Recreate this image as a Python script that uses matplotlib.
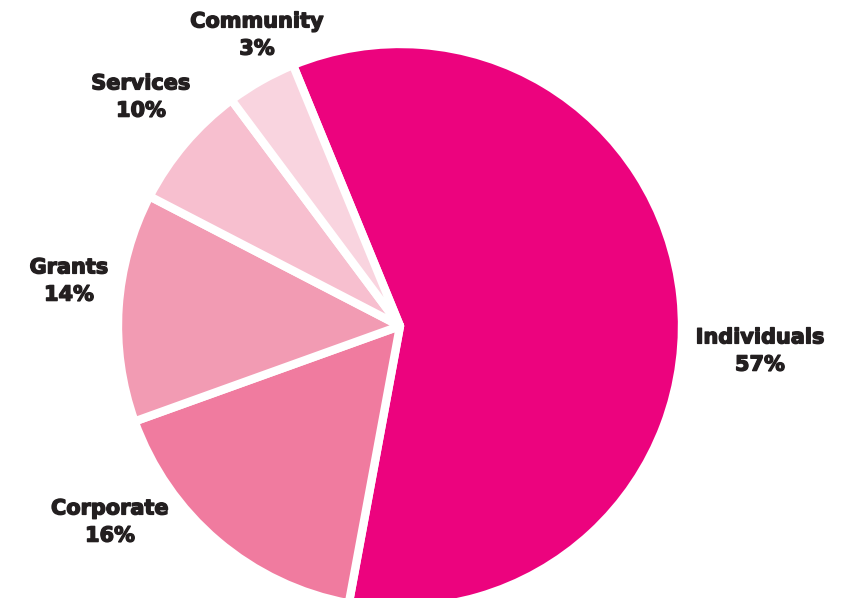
import matplotlib
matplotlib.use("Agg")
import matplotlib.pyplot as plt
import matplotlib.patheffects as pe

# Data
categories = ["Individuals", "Corporate", "Grants", "Services", "Community"]
percent_labels = ["57%", "16%", "14%", "10%", "3%"]
# slice shares as drawn in the reference
shares = [59.1, 16.6, 13.1, 7.2, 4.0]
colors = ["#EC037E", "#F07B9F", "#F29BB3", "#F7BFCF", "#F9D4DF"]

W, H = 845, 598
fig = plt.figure(figsize=(W / 100, H / 100), dpi=100)
ax = fig.add_axes([0, 0, 1, 1])

ax.pie(shares, colors=colors, center=(400, H - 326), radius=282,
       startangle=112.3, counterclock=False,
       wedgeprops=dict(edgecolor="white", linewidth=6, joinstyle="round"),
       frame=True)
ax.set_xlim(0, W)
ax.set_ylim(0, H)
ax.set_aspect("equal")
ax.axis("off")

label_pos = [(760, 351), (110, 522), (69, 281), (141, 97), (257, 35)]
for cat, pct, (x, y) in zip(categories, percent_labels, label_pos):
    ax.text(x, H - y, f"{cat}\n{pct}", ha="center", va="center",
            fontsize=15, fontweight="heavy", family="DejaVu Sans",
            color="#231F20", linespacing=1.45,
            path_effects=[pe.withStroke(linewidth=1.0, foreground="#231F20")])

fig.savefig("out.png", dpi=100)
